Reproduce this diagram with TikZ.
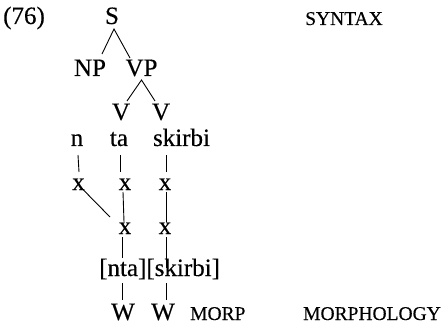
\documentclass[tikz,border=0pt]{standalone}
\usepackage{fontspec}
\newfontfamily\heavy[FakeBold=0.3]{Liberation Serif}
\setmainfont{Liberation Serif}
\usetikzlibrary{calc}
\tikzset{
  lbl/.style={inner sep=0pt, anchor=base, font=\heavy\fontsize{25}{30}\selectfont},
  caps/.style={inner sep=0pt, anchor=base west, font=\heavy\fontsize{19.5}{24}\selectfont},
  ln/.style={line width=0.9pt}
}
\begin{document}
\begin{tikzpicture}[x=1pt,y=-1pt]
\useasboundingbox (0,0) rectangle (444,334);
% labels
\node[lbl, anchor=base west] (ex) at (3,24) {(76)};
\node[caps] (syn) at (305,25) {SYNTAX};
\node[caps] (morp) at (190,320) {MORP};
\node[caps] (morph) at (303,320) {MORPHOLOGY};
% tree
\node[lbl] (S) at (112,24) {S};
\node[lbl] (NP) at (90,76) {NP};
\node[lbl] (VP) at (141.5,76) {VP};
\node[lbl] (V1) at (121,120) {V};
\node[lbl] (V2) at (161,120) {V};
\node[lbl] (n) at (77,146) {n};
\node[lbl] (ta) at (119,146) {ta};
\node[lbl] (sk) at (181.5,146) {skirbi};
\node[lbl] (xa) at (78.5,190) {x};
\node[lbl] (xb) at (125,190) {x};
\node[lbl] (xc) at (165,190) {x};
\node[lbl] (ya) at (125,234) {x};
\node[lbl] (yb) at (165,234) {x};
\node[lbl, anchor=base west] (br) at (99,276) {[nta][skirbi]};
\node[lbl] (W1) at (123,320) {W};
\node[lbl] (W2) at (163,320) {W};
% connectors
\draw[ln] ($(NP.base)+(12,-22)$) -- ($(S.base)+(2,5)$) -- ($(VP.base)+(-11.5,-18)$);
\draw[ln] ($(V1.base)+(6,-19)$) -- ($(VP.base)+(0,4)$) -- ($(V2.base)+(-6,-19)$);
\draw[ln] ($(n.base)+(1,9)$) -- ($(xa.base)+(0.5,-18)$);
\draw[ln] ($(ta.base)+(1,9)$) -- ($(xb.base)+(-5,-18)$);
\draw[ln] ($(sk.base)+(-15.5,9)$) -- ($(xc.base)+(1,-18)$);
\draw[ln] ($(xb.base)+(-2,2)$) -- ($(ya.base)+(-1,-12)$);
\draw[ln] ($(xc.base)+(1,2)$) -- ($(yb.base)+(1,-12)$);
\draw[ln] ($(xa.base)+(3,-2)$) -- ($(ya.base)+(-15,-17)$);
\draw[ln] ($(ya.base)+(-3,3)$) -- ($(br.base west)+(23,-18)$);
\draw[ln] ($(yb.base)+(1,3)$) -- ($(br.base west)+(67,-8)$);
\draw[ln] ($(br.base west)+(23,7)$) -- ($(W1.base)+(-1,-20)$);
\draw[ln] ($(br.base west)+(67,7)$) -- ($(W2.base)+(3,-20)$);
\end{tikzpicture}
\end{document}
